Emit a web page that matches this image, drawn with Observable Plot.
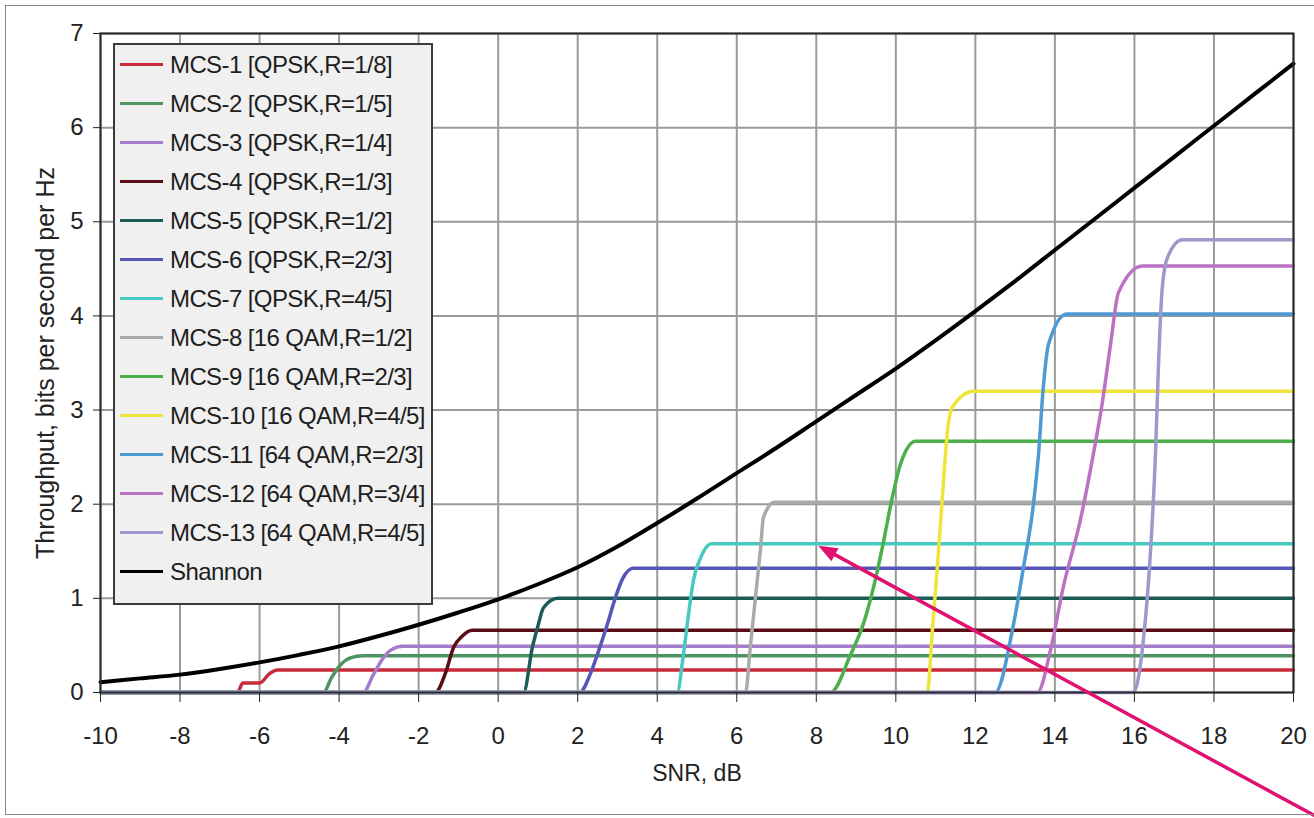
<!DOCTYPE html>
<html>
<head>
<meta charset="utf-8">
<script src="https://cdn.jsdelivr.net/npm/d3@7"></script>
<script src="https://cdn.jsdelivr.net/npm/@observablehq/plot@0.6"></script>
<style>
  html, body { margin: 0; padding: 0; background: #fff; }
  #wrap { position: relative; width: 1314px; height: 818px; overflow: hidden; font-family: "Liberation Sans", Arial, sans-serif; }
  #border { position: absolute; left: 5px; top: 5px; width: 1320px; height: 810px; border: 1.5px solid #8a8a8a; box-sizing: border-box; pointer-events: none; }
  #legend { position: absolute; left: 113px; top: 43px; width: 320px; height: 562px; box-sizing: border-box;
            background: #f0f0f0; border: 2px solid #3a3a3a; }
  .row { height: 39px; display: flex; align-items: center; font-size: 24px; color: #1e1e1e; white-space: nowrap; letter-spacing: -0.6px; }
  .sw { width: 43px; height: 3px; margin-left: 5px; margin-right: 7px; }
</style>
</head>
<body>
<div id="wrap">
  <div id="chart"></div>
  <div id="legend"></div>
  <div id="border"></div>
</div>
<script>
// ---- Data ----
const names = [
  "MCS-1 [QPSK,R=1/8]", "MCS-2 [QPSK,R=1/5]", "MCS-3 [QPSK,R=1/4]", "MCS-4 [QPSK,R=1/3]",
  "MCS-5 [QPSK,R=1/2]", "MCS-6 [QPSK,R=2/3]", "MCS-7 [QPSK,R=4/5]", "MCS-8 [16 QAM,R=1/2]",
  "MCS-9 [16 QAM,R=2/3]", "MCS-10 [16 QAM,R=4/5]", "MCS-11 [64 QAM,R=2/3]", "MCS-12 [64 QAM,R=3/4]",
  "MCS-13 [64 QAM,R=4/5]", "Shannon"
];
const colors = [
  "#c92a3a", "#4e9462", "#a57bcb", "#5a0d14", "#1c5c57", "#5656b6", "#45c9c1",
  "#a9abab", "#4bb04b", "#efe43a", "#4d9bd2", "#bb72c3", "#9c9acd", "#000000"
];

// [SNR dB, throughput bit/s/Hz]
const mcs1  = [[-10,0],[-6.56,0],[-6.42,0.1],[-6.0,0.1],[-5.75,0.2],[-5.55,0.24],[20,0.24]];
const mcs2  = [[-10,0],[-4.39,0],[-4.2,0.15],[-3.95,0.3],[-3.7,0.37],[-3.4,0.39],[20,0.39]];
const mcs3  = [[-10,0],[-3.39,0],[-3.15,0.18],[-2.9,0.36],[-2.7,0.45],[-2.4,0.49],[20,0.49]];
const mcs4  = [[-10,0],[-1.58,0],[-1.33,0.2],[-1.12,0.48],[-0.9,0.6],[-0.65,0.66],[20,0.66]];
const mcs5  = [[-10,0],[0.64,0],[0.86,0.48],[0.99,0.69],[1.14,0.9],[1.5,1.0],[20,1.0]];
const mcs6  = [[-10,0],[2.05,0],[2.32,0.2],[2.5,0.41],[2.75,0.73],[2.95,1.01],[3.13,1.21],[3.4,1.32],[20,1.32]];
const mcs7  = [[-10,0],[4.5,0],[4.66,0.41],[4.79,0.84],[4.91,1.19],[5.09,1.43],[5.36,1.58],[20,1.58]];
const mcs8  = [[-10,0],[6.22,0],[6.34,0.48],[6.47,1.01],[6.6,1.54],[6.67,1.86],[6.95,2.02],[20,2.02]];
const mcs9  = [[-10,0],[8.36,0],[8.86,0.4],[9.2,0.75],[9.44,1.12],[9.66,1.54],[9.91,2.07],[10.12,2.43],[10.5,2.67],[20,2.67]];
const mcs10 = [[-10,0],[10.79,0],[10.92,0.66],[11.05,1.37],[11.17,2.07],[11.3,2.78],[11.42,3.03],[11.95,3.2],[20,3.2]];
const mcs11 = [[-10,0],[12.5,0],[12.93,0.66],[13.21,1.33],[13.46,2.0],[13.59,2.54],[13.7,3.2],[13.84,3.7],[14.3,4.02],[20,4.02]];
const mcs12 = [[-10,0],[13.56,0],[13.89,0.45],[14.21,1.12],[14.64,1.83],[14.97,2.54],[15.2,3.1],[15.4,3.7],[15.6,4.25],[16.2,4.53],[20,4.53]];
const mcs13 = [[-10,0],[15.97,0],[16.23,0.58],[16.4,1.47],[16.53,2.54],[16.6,3.42],[16.7,4.3],[16.83,4.62],[17.2,4.81],[20,4.81]];
const shannonSnr = [-10,-9,-8,-7,-6,-5,-4,-3,-2,-1,0,1,2,3,4,5,6,7,8,9,10,11,12,13,14,15,16,17,18,19,20];
const shannonVal = [0.11,0.15,0.19,0.25,0.32,0.40,0.49,0.60,0.72,0.85,0.99,1.15,1.33,1.55,1.80,2.06,2.33,2.60,2.88,3.16,3.44,3.74,4.05,4.37,4.70,5.03,5.36,5.69,6.02,6.35,6.68];

const xTicks = [-10,-8,-6,-4,-2,0,2,4,6,8,10,12,14,16,18,20];
const yTicks = [0,1,2,3,4,5,6,7];
const xLabel = "SNR, dB";
const yLabel = "Throughput, bits per second per Hz";
// annotation arrow (data units): tail outside the frame, head pointing at MCS-7 plateau
const arrowNote = [{x1: 20.93, y1: -1.40, x2: 8.05, y2: 1.56}];

// ---- Build table ----
const mcsSeries = [mcs1, mcs2, mcs3, mcs4, mcs5, mcs6, mcs7, mcs8, mcs9, mcs10, mcs11, mcs12, mcs13];
const rows = [];
mcsSeries.forEach((pts, i) => pts.forEach(([snr, v]) => rows.push({series: names[i], snr, v})));
shannonSnr.forEach((snr, i) => rows.push({series: "Shannon", snr, v: shannonVal[i]}));

const W = 1314, H = 818, mL = 100, mR = 21, mT = 33, mB = 126;
const xDom = [-10, 20], yDom = [0, 7];
// screen direction of the annotation arrow (for the filled head)
const kx = (W - mL - mR) / (xDom[1] - xDom[0]);
const ky = (H - mT - mB) / (yDom[1] - yDom[0]);
const arrowAngle = a => Math.atan2((a.x2 - a.x1) * kx, (a.y2 - a.y1) * ky) * 180 / Math.PI;

const chart = Plot.plot({
  width: W,
  height: H,
  marginLeft: mL,
  marginRight: mR,
  marginTop: mT,
  marginBottom: mB,
  style: {fontFamily: "'Liberation Sans', Arial, sans-serif", fontSize: "24px", color: "#222", background: "transparent"},
  x: {domain: xDom},
  y: {domain: yDom},
  color: {domain: names, range: colors},
  marks: [
    Plot.gridX(xTicks, {stroke: "#9a9a9a", strokeOpacity: 1, strokeWidth: 2}),
    Plot.gridY(yTicks, {stroke: "#9a9a9a", strokeOpacity: 1, strokeWidth: 2}),
    Plot.line(rows, {x: "snr", y: "v", z: "series", stroke: "series", strokeWidth: d => d.series === "Shannon" ? 4 : 3.5, curve: "monotone-x"}),
    Plot.frame({stroke: "#2a2a2a", strokeWidth: 2}),
    Plot.axisX({ticks: xTicks, tickSize: 10, tickPadding: 24, label: null, tickFormat: d => String(d)}),
    Plot.axisY({ticks: yTicks, tickSize: 7, tickPadding: 10, label: null, tickFormat: d => String(d)}),
    Plot.text([xLabel], {frameAnchor: "bottom", dy: 88, fontSize: 23, fill: "#222"}),
    Plot.text([yLabel], {frameAnchor: "left", dx: -55, rotate: -90, textAnchor: "middle", fontSize: 25, fill: "#222"}),
    Plot.arrow(arrowNote, {x1: "x1", y1: "y1", x2: "x2", y2: "y2", stroke: "#e0126f", strokeWidth: 3.5, headLength: 0, insetEnd: 12, clip: false}),
    Plot.vector(arrowNote, {x: "x2", y: "y2", rotate: arrowAngle, length: 19, r: 7.5, shape: "spike", anchor: "end", fill: "#e0126f", stroke: "none", clip: false})
  ]
});
document.getElementById("chart").appendChild(chart);

// legend
const leg = document.getElementById("legend");
names.forEach((n, i) => {
  const r = document.createElement("div");
  r.className = "row";
  const s = document.createElement("div");
  s.className = "sw";
  s.style.background = colors[i];
  const t = document.createElement("span");
  t.textContent = n;
  r.appendChild(s); r.appendChild(t);
  leg.appendChild(r);
});
</script>
</body>
</html>
